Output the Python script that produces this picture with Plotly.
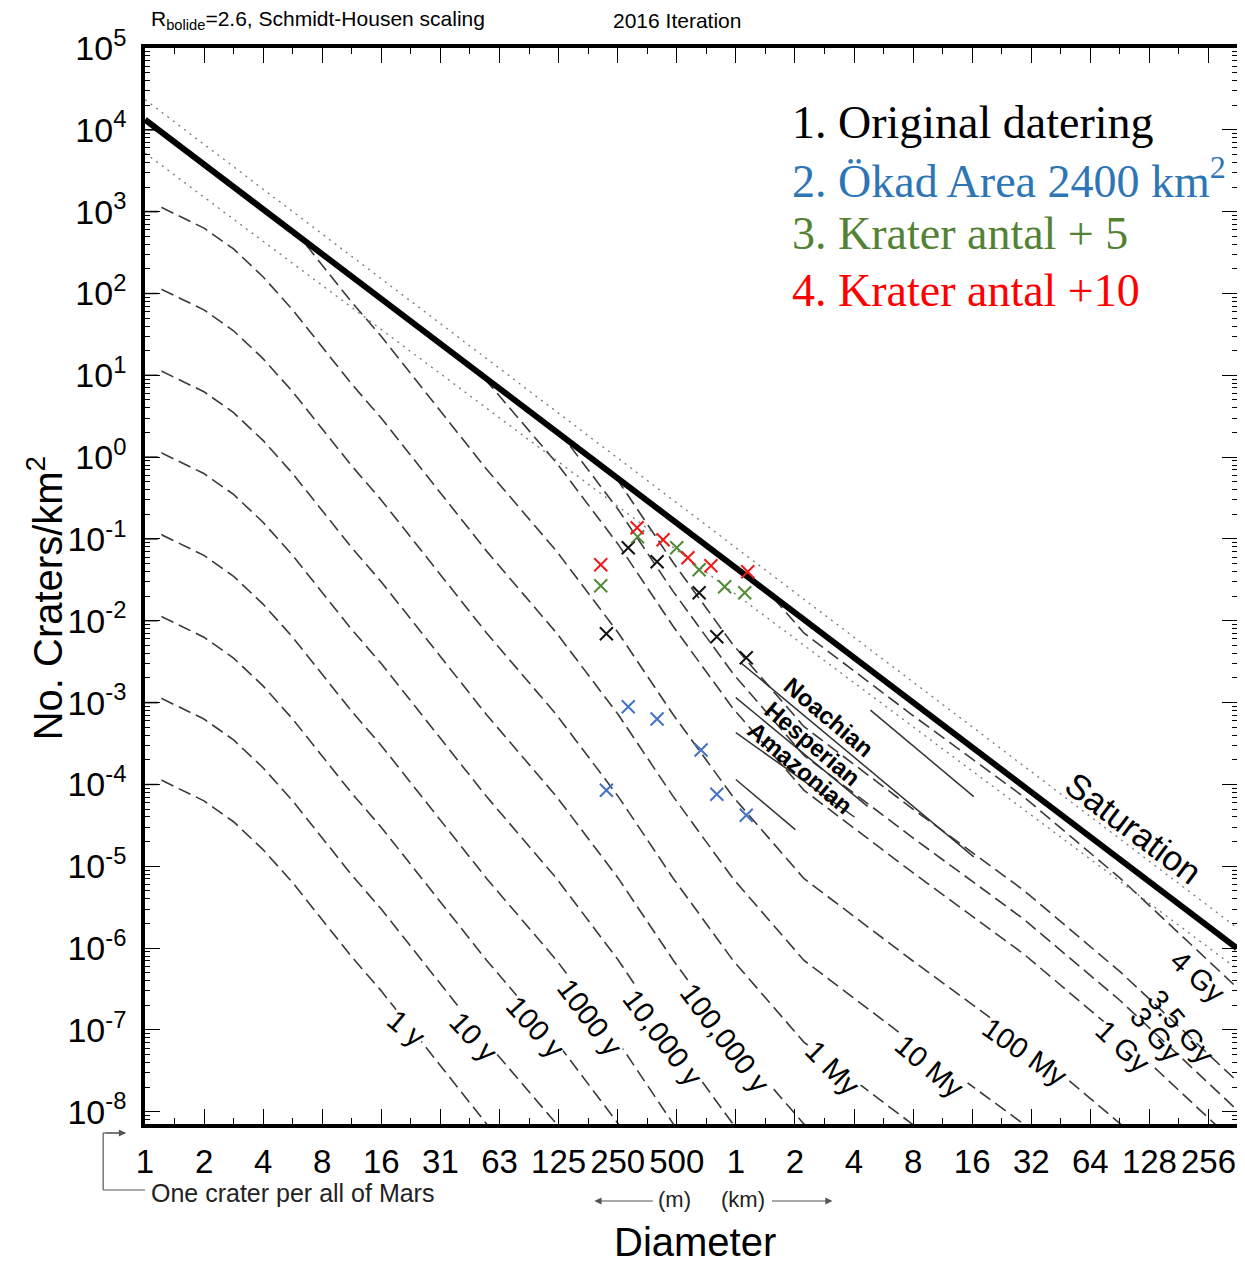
import plotly.graph_objects as go

# ---------------- data ----------------
# x-axis ticks: diameters in km (binned powers of two), labels as printed
tick_D = [2.0 ** k for k in range(-10, 9)]
tick_labels = ["1", "2", "4", "8", "16", "31", "63", "125", "250", "500",
               "1", "2", "4", "8", "16", "32", "64", "128", "256"]
y_tick_exp = list(range(-8, 6))

# 1-year isochron (km, craters/km2)
iso_D = [0.000977, 0.00116, 0.00119, 0.00195, 0.00276, 0.0039, 0.00552, 0.0078,
         0.011, 0.0156, 0.0221, 0.03125, 0.0537, 0.122, 0.252, 0.48, 0.966,
         2.22, 7.89, 29.2, 91.0, 254.0, 362.0]
iso_N = [1.0e-4, 1.0e-4, 1.12e-4, 6.3e-5, 3.5e-5, 1.6e-5, 6.3e-6, 2.2e-6,
         7.9e-7, 3.0e-7, 1.05e-7, 3.6e-8, 7.1e-9, 7.1e-10, 7.1e-11, 7.1e-12,
         7.1e-13, 7.1e-14, 7.1e-15, 7.1e-16, 7.1e-17, 7.1e-18, 3.2e-18]
# isochron ages and their multipliers relative to the 1-year curve
ages = ["1 y", "10 y", "100 y", "1000 y", "10,000 y", "100,000 y", "1 My",
        "10 My", "100 My", "1 Gy", "3 Gy", "3.5 Gy", "4 Gy"]
age_factor = [1, 10, 1e2, 1e3, 1e4, 1e5, 1e6, 1e7, 1e8, 1.2e9, 3.2e9, 7.2e9, 1.0e11]

# saturation and the two dotted bounds
sat_D = [0.000977, 357.0]
sat_N = [1.33e4, 1.0e-6]
dot_hi_N = [2.34e4, 1.78e-6]
dot_lo_N = [5.2e3, 5.6e-7]

# epoch boundary segments
epoch_D = [[1.06, 16.3], [1.0, 4.69], [1.0, 4.02], [1.0, 2.01], [4.85, 16.3]]
epoch_N = [[3.07e-3, 1.3e-5], [1.15e-3, 5.4e-5], [4.3e-4, 4.0e-5],
           [1.15e-4, 2.8e-5], [8.1e-4, 7.1e-5]]

# crater counts
orig_D = [0.219, 0.283, 0.397, 0.65, 0.80, 1.13]
orig_N = [0.00695, 0.078, 0.0527, 0.022, 0.00638, 0.00354]
area_D = [0.219, 0.283, 0.397, 0.665, 0.80, 1.13]
area_N = [8.5e-5, 8.9e-4, 6.3e-4, 2.63e-4, 7.6e-5, 4.2e-5]
plus5_D = [0.205, 0.316, 0.50, 0.65, 0.877, 1.11]
plus5_N = [0.0268, 0.106, 0.078, 0.042, 0.0261, 0.022]
plus10_D = [0.205, 0.314, 0.426, 0.57, 0.747, 1.15]
plus10_N = [0.0484, 0.137, 0.0977, 0.0589, 0.0471, 0.0398]

# ---------------- layout geometry (page pixels) ----------------
PAGE_W, PAGE_H = 1245, 1263
OFF = 8                       # page body margin
W, H = PAGE_W - OFF, PAGE_H - OFF
L, R, T, B = 145, 1241, 48, 1124
X0 = -3.0103
X1 = X0 + (R - L) / 59.3 * 0.30103
Y0, Y1 = -8.15, 5.0


def px(x):
    return (x - L) / (R - L)


def py(y):
    return (B - y) / (B - T)


fig = go.Figure()

for name, f in zip(ages, age_factor):
    fig.add_trace(go.Scatter(x=iso_D, y=[n * f for n in iso_N], mode="lines",
                             line=dict(color="#3a3a3a", width=1.6, dash="13px,6px"),
                             showlegend=False, hoverinfo="skip", name=name))

for dd, nn in zip(epoch_D, epoch_N):
    fig.add_trace(go.Scatter(x=dd, y=nn, mode="lines",
                             line=dict(color="#333", width=1.5),
                             showlegend=False, hoverinfo="skip"))

# white mask above the saturation line (isochrons end there)
fig.add_trace(go.Scatter(x=[sat_D[0], sat_D[1], sat_D[1], sat_D[0]],
                         y=[sat_N[0], sat_N[1], 1e6, 1e6], mode="lines",
                         fill="toself", fillcolor="white", line=dict(width=0),
                         showlegend=False, hoverinfo="skip"))

fig.add_trace(go.Scatter(x=sat_D, y=dot_lo_N, mode="lines",
                         line=dict(color="#777", width=1.3, dash="2px,5px"),
                         showlegend=False, hoverinfo="skip"))
fig.add_trace(go.Scatter(x=sat_D, y=dot_hi_N, mode="lines",
                         line=dict(color="#777", width=1.3, dash="2px,5px"),
                         showlegend=False, hoverinfo="skip"))
fig.add_trace(go.Scatter(x=sat_D, y=sat_N, mode="lines",
                         line=dict(color="black", width=6),
                         showlegend=False, hoverinfo="skip"))

for dd, nn, c in [(orig_D, orig_N, "#111111"), (area_D, area_N, "#4472C4"),
                  (plus5_D, plus5_N, "#4F8A35"), (plus10_D, plus10_N, "#F01818")]:
    fig.add_trace(go.Scatter(x=dd, y=nn, mode="markers",
                             marker=dict(symbol="x-thin", size=13,
                                         line=dict(width=2, color=c)),
                             showlegend=False, hoverinfo="skip"))

FONT = "Arial, Liberation Sans, sans-serif"
SERIF = "Times New Roman, Liberation Serif, serif"

minor_y = [m * 10.0 ** k for k in range(-9, 6) for m in range(2, 10)]
minor_x = [2.0 ** (k + 0.5) for k in range(-11, 9)]

fig.update_layout(
    width=W, height=H,
    margin=dict(l=L - OFF, r=PAGE_W - R, t=T - OFF, b=PAGE_H - B),
    paper_bgcolor="white", plot_bgcolor="white", showlegend=False,
    font=dict(family=FONT, color="black"),
    xaxis=dict(type="log", range=[X0, X1], tickvals=tick_D, ticktext=tick_labels,
               ticks="inside", ticklen=15, tickwidth=1.3, tickcolor="black",
               showline=True, linewidth=3.5, linecolor="black", mirror="allticks",
               showgrid=False, zeroline=False, tickfont=dict(size=33, family=FONT),
               ticklabelstandoff=6,
               minor=dict(tickvals=minor_x, ticks="inside", ticklen=6,
                          tickwidth=1, tickcolor="black", showgrid=False)),
    yaxis=dict(type="log", range=[Y0, Y1], tickvals=[10.0 ** e for e in y_tick_exp],
               ticktext=["10<sup>%d</sup>" % e for e in y_tick_exp],
               ticks="inside", ticklen=15, tickwidth=1.3, tickcolor="black",
               showline=True, linewidth=3.5, linecolor="black", mirror="allticks",
               showgrid=False, zeroline=False, tickfont=dict(size=34, family=FONT),
               ticklabelstandoff=8,
               minor=dict(tickvals=minor_y, ticks="inside", ticklen=5,
                          tickwidth=1, tickcolor="black", showgrid=False)),
)


def ann(x, y, text, size, angle=0, color="black", family=FONT, xanchor="center",
        bg=None):
    fig.add_annotation(x=px(x), y=py(y), xref="paper", yref="paper", text=text,
                       showarrow=False, textangle=angle, xanchor=xanchor,
                       yanchor="middle", font=dict(size=size, color=color, family=family),
                       bgcolor=bg, borderpad=0)


iso_labels = [(407, 1028, "1 y", 40), (475, 1037, "10 y", 47), (537, 1027, "100 y", 48),
              (592, 1018, "1000 y", 53), (665, 1038, "10,000 y", 53),
              (727, 1038, "100,000 y", 53), (835, 1068, "1 My", 45),
              (932, 1066, "10 My", 40), (1028, 1052, "100 My", 35),
              (1127, 1047, "1 Gy", 43), (1160, 1035, "3 Gy", 50),
              (1185, 1027, "3.5 Gy", 50), (1202, 977, "4 Gy", 42)]
for x, y, t, a in iso_labels:
    bg = None if t in ("3 Gy", "3.5 Gy") else "white"
    ann(x, y, t, 29, a, bg=bg)

ann(1138, 828, "Saturation", 35, 37)
ann(832, 717, "<b>Noachian</b>", 24, 40)
ann(815, 743, "<b>Hesperian</b>", 24, 40)
ann(802, 768, "<b>Amazonian</b>", 24, 40)

ann(793, 122, "1. Original datering", 46, color="black", family=SERIF, xanchor="left")
ann(793, 178, "2. Ökad Area 2400 km<sup>2</sup>", 46, color="#2E75B6", family=SERIF,
    xanchor="left")
ann(793, 234, "3. Krater antal + 5", 46, color="#548235", family=SERIF, xanchor="left")
ann(793, 290, "4. Krater antal +10", 46, color="#FF0000", family=SERIF, xanchor="left")

ann(150, 20, "R<sub>bolide</sub>=2.6, Schmidt-Housen scaling", 21, xanchor="left")
ann(614, 20, "2016 Iteration", 21, xanchor="left")

ann(45, 598, "No. Craters/km<sup>2</sup>", 40, -90)
ann(697, 1242, "Diameter", 40)

ann(150, 1193, "One crater per all of Mars", 25, color="#222", xanchor="left")
ann(676, 1199, "(m)", 22, color="#222")
ann(745, 1199, "(km)", 22, color="#222")


def seg(x0, y0, x1, y1, c="#555", w=1.2):
    fig.add_shape(type="line", xref="paper", yref="paper", x0=px(x0), y0=py(y0),
                  x1=px(x1), y1=py(y1), line=dict(color=c, width=w))


seg(103, 1133, 103, 1190)
seg(103, 1190, 145, 1190)
seg(103, 1133, 125, 1133)


def arrow(xh, yh, ax):
    fig.add_annotation(x=px(xh), y=py(yh), xref="paper", yref="paper", text="",
                       showarrow=True, ax=ax, ay=0, arrowhead=2, arrowsize=1.2,
                       arrowwidth=1.2, arrowcolor="#555")


arrow(126, 1133, -22)
arrow(596, 1201, 60)
arrow(835, 1201, -62)

fig.write_html("out.html")
